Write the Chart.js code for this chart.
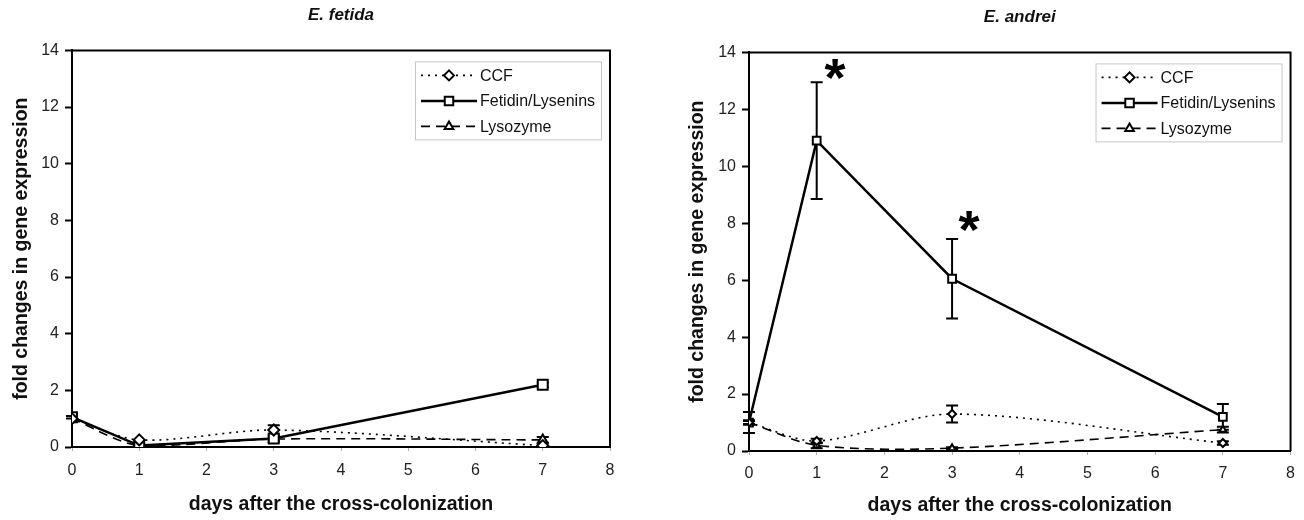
<!DOCTYPE html>
<html>
<head>
<meta charset="utf-8">
<script src="https://cdn.jsdelivr.net/npm/chart.js@4.4.0/dist/chart.umd.min.js"></script>
<style>
  body{margin:0;background:#fff;width:1304px;height:520px;overflow:hidden;font-family:"Liberation Sans",Arial,sans-serif}
  .box{position:absolute;top:0;width:652px;height:520px}
</style>
</head>
<body>
<div class="box" style="left:0"><canvas id="fetida"></canvas></div>
<div class="box" style="left:652px"><canvas id="andrei"></canvas></div>
<script>
// days sampled
const days=[0,1,3,7]
const seriesNames=['CCF','Fetidin/Lysenins','Lysozyme']

// E. fetida
const fetidaCCF=[1.0,0.25,0.6,0.05]
const fetidaCCFErr=[0,0,0.17,0]
const fetidaFet=[1.05,0.05,0.3,2.2]
const fetidaFetErr=[0.04,0.04,0.08,0.08]
const fetidaLys=[1.0,0.05,0.28,0.25]
const fetidaLysErr=[0,0,0,0.1]

// E. andrei
const andreiCCF=[1.0,0.35,1.3,0.28]
const andreiCCFErr=[0.08,0.08,0.3,0.06]
const andreiFet=[1.0,10.9,6.05,1.2]
const andreiFetErr=[0.37,2.05,1.4,0.45]
const andreiLys=[1.0,0.2,0.1,0.75]
const andreiLysErr=[0.05,0.1,0.03,0.1]

// significance marks (E. andrei)
const starX=[1.27,3.25]
const starY=[13.35,8.0]

const font='"Liberation Sans", Arial, sans-serif'

function pts(ys){return days.map((d,i)=>({x:d,y:ys[i]}))}

const errorBars={
  id:'errorBars',
  beforeDatasetsDraw(chart){
    const ctx=chart.ctx, xs=chart.scales.x, ys=chart.scales.y
    ctx.save()
    ctx.strokeStyle='#000'
    ctx.lineWidth=2
    chart.data.datasets.forEach(ds=>{
      if(!ds.err) return
      ds.data.forEach((p,i)=>{
        const e=ds.err[i]; if(!e) return
        const x=xs.getPixelForValue(p.x)
        const y1=ys.getPixelForValue(p.y-e), y2=ys.getPixelForValue(p.y+e)
        ctx.beginPath()
        ctx.moveTo(x,y1);ctx.lineTo(x,y2)
        ctx.moveTo(x-6,y1);ctx.lineTo(x+6,y1)
        ctx.moveTo(x-6,y2);ctx.lineTo(x+6,y2)
        ctx.stroke()
      })
    })
    ctx.restore()
  }
}

const frame={
  id:'frame',
  afterDraw(chart){
    const ctx=chart.ctx, a=chart.chartArea
    ctx.save()
    ctx.strokeStyle='#000';ctx.lineWidth=2
    ctx.beginPath()
    ctx.moveTo(a.left,a.top);ctx.lineTo(a.right,a.top);ctx.lineTo(a.right,a.bottom)
    ctx.stroke()
    // legend box
    const w=186,h=78
    const bx=a.right-w-9, by=a.top+11
    ctx.fillStyle='#fff';ctx.fillRect(bx,by,w,h)
    ctx.strokeStyle='#c8c8c8';ctx.lineWidth=1
    ctx.strokeRect(bx+0.5,by+0.5,w,h)
    chart.data.datasets.forEach((ds,i)=>{
      const y=by+14+i*25.5
      ctx.strokeStyle='#000'
      ctx.lineWidth=ds.borderWidth
      ctx.setLineDash(ds.borderDash||[])
      ctx.beginPath();ctx.moveTo(bx+6,y);ctx.lineTo(bx+62,y);ctx.stroke()
      ctx.setLineDash([])
      ctx.lineWidth=2;ctx.fillStyle='#fff';ctx.strokeStyle='#000'
      Chart.helpers.drawPoint(ctx,{pointStyle:ds.pointStyle,radius:ds.pointStyle==='rect'?6:5,rotation:0,borderWidth:2},bx+34,y)
      ctx.fillStyle='#111'
      ctx.font='16px '+font
      ctx.textBaseline='middle'
      ctx.fillText(ds.label,bx+65,y+1)
    })
    // asterisks
    if(chart.options.stars){
      const xs=chart.scales.x, ys=chart.scales.y
      ctx.fillStyle='#000'
      ctx.font='bold 54px '+font
      ctx.textAlign='center';ctx.textBaseline='middle'
      starX.forEach((sx,i)=>ctx.fillText('*',xs.getPixelForValue(sx),ys.getPixelForValue(starY[i])+10))
    }
    ctx.restore()
  }
}

function makeChart(id,title,ccf,ccfErr,fet,fetErr,lys,lysErr,cfg){
  new Chart(document.getElementById(id),{
    type:'line',
    data:{
      datasets:[
        {label:seriesNames[0],data:pts(ccf),err:ccfErr,borderColor:'#000',borderWidth:1.6,borderDash:[2,5],
         pointStyle:'rectRot',pointRadius:cfg.r,pointBackgroundColor:'#fff',pointBorderColor:'#000',pointBorderWidth:2,tension:0.3},
        {label:seriesNames[1],data:pts(fet),err:fetErr,borderColor:'#000',borderWidth:2.5,
         pointStyle:'rect',pointRadius:cfg.r+1.5,pointBackgroundColor:'#fff',pointBorderColor:'#000',pointBorderWidth:2},
        {label:seriesNames[2],data:pts(lys),err:lysErr,borderColor:'#000',borderWidth:1.6,borderDash:[9,6],
         pointStyle:'triangle',pointRadius:cfg.r,pointBackgroundColor:'#fff',pointBorderColor:'#000',pointBorderWidth:2,tension:0.3}
      ]
    },
    options:{
      responsive:true,
      maintainAspectRatio:false,
      animation:false,
      stars:cfg.stars,
      layout:{padding:{left:0,right:cfg.padRight,top:0,bottom:0}},
      plugins:{
        legend:{display:false},
        tooltip:{enabled:false},
        title:{display:true,text:title,fullSize:false,color:'#111',
          font:{family:font,size:17,weight:'bold',style:'italic'},
          padding:{top:cfg.titleTop,bottom:cfg.titleBottom}}
      },
      scales:{
        x:{type:'linear',min:0,max:8,
          afterFit(s){s.height=cfg.xH},
          ticks:{stepSize:1,color:'#222',font:{family:font,size:16},padding:cfg.xTickPad},
          grid:{drawOnChartArea:false,tickLength:4,tickColor:'#b0b0b0'},
          border:{color:'#000',width:2},
          title:{display:true,text:'days after the cross-colonization',color:'#111',
            font:{family:font,size:19.5,weight:'bold'},padding:{top:2,bottom:cfg.xTitleBottom}}
        },
        y:{min:0,max:14,
          afterFit(s){s.width=cfg.yW},
          ticks:{stepSize:2,color:'#222',font:{family:font,size:16},padding:6},
          grid:{drawOnChartArea:false,tickLength:7,tickColor:'#000',tickWidth:2},
          border:{color:'#000',width:2},
          title:{display:true,text:'fold changes in gene expression',color:'#111',
            font:{family:font,size:19.5,weight:'bold'},padding:{top:cfg.yTitleTop,bottom:0}}
        }
      }
    },
    plugins:[errorBars,frame]
  })
}

makeChart('fetida','E. fetida',fetidaCCF,fetidaCCFErr,fetidaFet,fetidaFetErr,fetidaLys,fetidaLysErr,
  {r:5.5,padRight:42,yW:72,xH:73,titleTop:5,titleBottom:25,xTickPad:10,xTitleBottom:4,yTitleTop:10,stars:false})
makeChart('andrei','E. andrei',andreiCCF,andreiCCFErr,andreiFet,andreiFetErr,andreiLys,andreiLysErr,
  {r:4,padRight:11,yW:97,xH:69,titleTop:7,titleBottom:25,xTickPad:9,xTitleBottom:3,yTitleTop:34,stars:true})
</script>
</body>
</html>
